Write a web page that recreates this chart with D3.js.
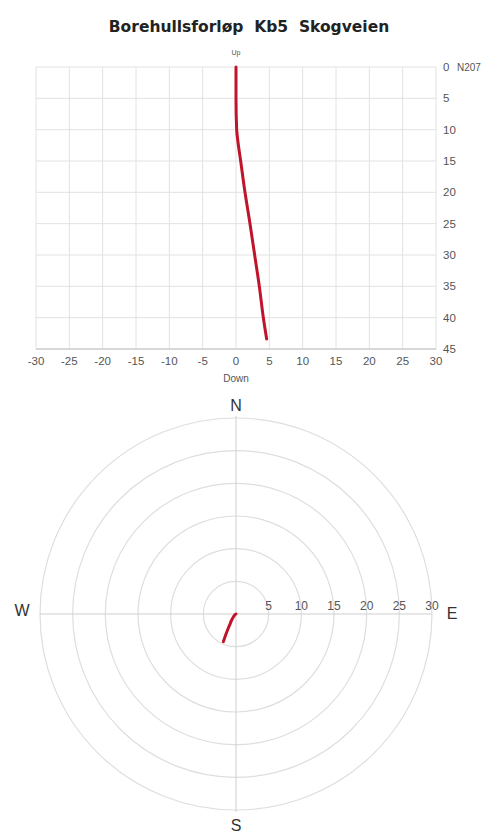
<!DOCTYPE html>
<html>
<head>
    <meta charset="utf-8">
    <title>Borehullsforløp Kb5 Skogveien</title>
    <style type="text/css">
        body { margin: 0; background: #fff; }
        svg text { font-family: "Liberation Sans", Arial, sans-serif; fill: #555; }
        .grid line { stroke: #e2e2e2; stroke-width: 1; }
        .trace { fill: none; stroke: #c0142c; stroke-width: 3; stroke-linecap: round; stroke-linejoin: round; }
    </style>
</head>
<body>
<div id="chart"></div>
<script src="https://cdn.jsdelivr.net/npm/d3@7/dist/d3.min.js"></script>
<script type="text/javascript">
    // vertical section (direction N207): depth vs horizontal offset
    var depth  = [0, 5, 10, 12, 15, 20, 25, 30, 35, 40, 43.4];
    var offset = [0, 0, 0.1, 0.3, 0.7, 1.35, 2.1, 2.8, 3.5, 4.1, 4.6];
    var xTicks = [-30, -25, -20, -15, -10, -5, 0, 5, 10, 15, 20, 25, 30];
    var yTicks = [0, 5, 10, 15, 20, 25, 30, 35, 40, 45];

    // plan view: east / north displacement
    var east  = [0, -0.15, -0.4, -0.66, -0.9, -1.17, -1.5, -1.94];
    var north = [0, -0.1, -0.45, -0.92, -1.5, -2.14, -3.0, -4.23];
    var rings = [5, 10, 15, 20, 25, 30];

    var svg = d3.select('#chart').append('svg')
        .attr('width', 503).attr('height', 837);

    // tittel
    svg.append('text')
        .attr('x', 249).attr('y', 32)
        .attr('text-anchor', 'middle')
        .style('font-family', '"DejaVu Sans", sans-serif')
        .style('font-size', '15.5px').style('font-weight', 'bold')
        .style('white-space', 'pre')
        .style('fill', '#222')
        .text('Borehullsforløp  Kb5  Skogveien');

    // ---- vertical section ----
    var x = d3.scaleLinear().domain([-30, 30]).range([36, 436]);
    var y = d3.scaleLinear().domain([0, 45]).range([67, 349]);

    var grid = svg.append('g').attr('class', 'grid');
    grid.selectAll('line.v').data(xTicks).enter().append('line')
        .attr('class', 'v')
        .attr('x1', function (d) { return x(d); }).attr('x2', function (d) { return x(d); })
        .attr('y1', y(0)).attr('y2', y(45));
    grid.selectAll('line.h').data(yTicks).enter().append('line')
        .attr('class', 'h')
        .attr('x1', x(-30)).attr('x2', x(30))
        .attr('y1', function (d) { return y(d); }).attr('y2', function (d) { return y(d); });
    svg.append('line')
        .attr('x1', x(-30)).attr('x2', x(30)).attr('y1', y(45)).attr('y2', y(45))
        .style('stroke', '#cfcfcf').style('stroke-width', 1.5);

    svg.selectAll('text.xt').data(xTicks).enter().append('text')
        .attr('class', 'xt')
        .attr('x', function (d) { return x(d); }).attr('y', 365)
        .attr('text-anchor', 'middle')
        .style('font-size', '11.5px')
        .text(function (d) { return d; });
    svg.selectAll('text.yt').data(yTicks).enter().append('text')
        .attr('class', 'yt')
        .attr('x', 443).attr('y', function (d) { return y(d) + 4; })
        .style('font-size', '11.5px')
        .text(function (d) { return d; });
    svg.append('text').attr('x', 457).attr('y', y(0) + 4)
        .style('font-size', '10px').text('N207');
    svg.append('text').attr('x', x(0)).attr('y', 55)
        .attr('text-anchor', 'middle').style('font-size', '7px').text('Up');
    svg.append('text').attr('x', x(0)).attr('y', 382)
        .attr('text-anchor', 'middle').style('font-size', '10px').text('Down');

    var section = depth.map(function (d, i) { return [offset[i], d]; });
    svg.append('path')
        .attr('class', 'trace')
        .attr('d', d3.line()
            .x(function (d) { return x(d[0]); })
            .y(function (d) { return y(d[1]); })
            .curve(d3.curveMonotoneY)(section));

    // ---- plan view ----
    var cx = 236, cy = 614;
    var r = d3.scaleLinear().domain([0, 30]).range([0, 196]);

    svg.selectAll('circle.ring').data(rings).enter().append('circle')
        .attr('class', 'ring')
        .attr('cx', cx).attr('cy', cy)
        .attr('r', function (d) { return r(d); })
        .style('fill', 'none').style('stroke', '#dedede').style('stroke-width', 1.2);
    svg.append('line')
        .attr('x1', cx - r(30)).attr('x2', cx + r(30)).attr('y1', cy).attr('y2', cy)
        .style('stroke', '#cfcfcf');
    svg.append('line')
        .attr('x1', cx).attr('x2', cx).attr('y1', cy - r(30) - 2).attr('y2', cy + r(30) + 2)
        .style('stroke', '#cfcfcf');

    svg.selectAll('text.rt').data(rings).enter().append('text')
        .attr('class', 'rt')
        .attr('x', function (d) { return cx + r(d); }).attr('y', cy - 4)
        .attr('text-anchor', 'middle')
        .style('font-size', '12px')
        .text(function (d) { return d; });

    var compass = [
        {t: 'N', x: cx, y: 411},
        {t: 'S', x: cx, y: 831},
        {t: 'E', x: 452, y: 619},
        {t: 'W', x: 22, y: 616}
    ];
    svg.selectAll('text.cmp').data(compass).enter().append('text')
        .attr('class', 'cmp')
        .attr('x', function (d) { return d.x; }).attr('y', function (d) { return d.y; })
        .attr('text-anchor', 'middle')
        .style('font-size', '16px').style('fill', '#333')
        .text(function (d) { return d.t; });

    var plan = east.map(function (e, i) { return [e, north[i]]; });
    svg.append('path')
        .attr('class', 'trace')
        .attr('d', d3.line()
            .x(function (d) { return cx + r(d[0]); })
            .y(function (d) { return cy - r(d[1]); })
            .curve(d3.curveCatmullRom)(plan));
</script>
</body>
</html>
